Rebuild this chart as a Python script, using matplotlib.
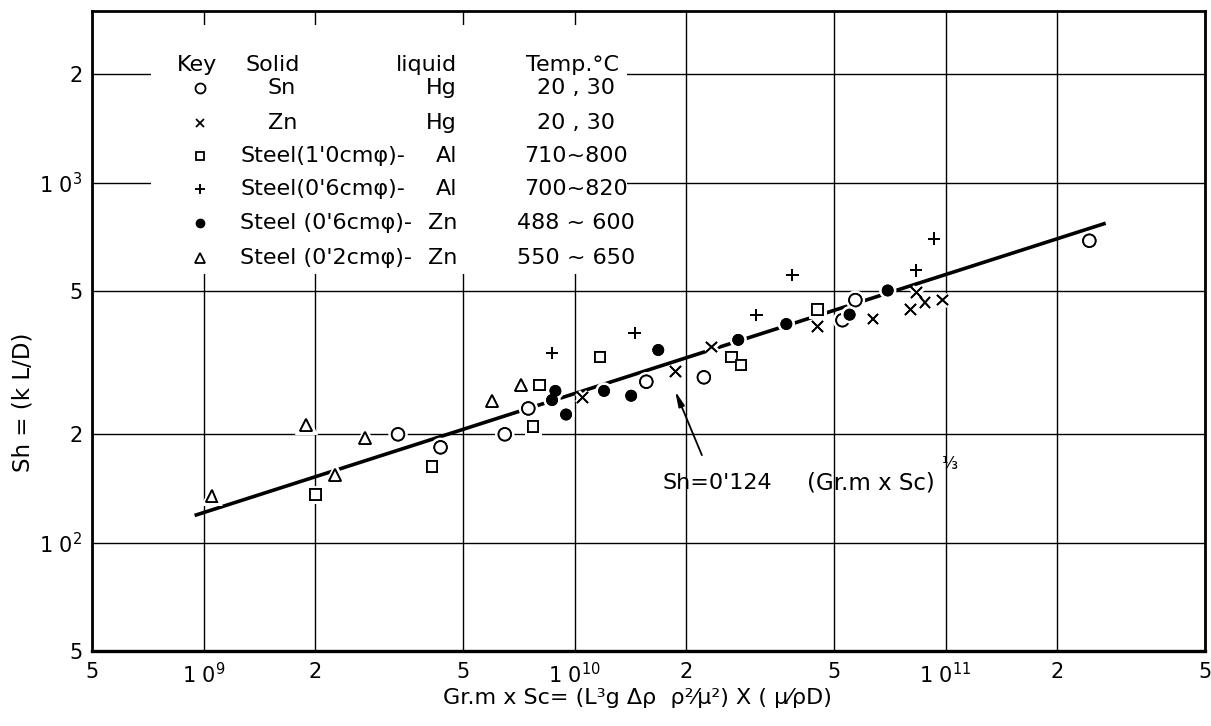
import matplotlib
matplotlib.use("Agg")
import matplotlib.pyplot as plt
import matplotlib.patheffects as pe
from matplotlib.patches import Rectangle
from matplotlib.ticker import FixedLocator, NullLocator, FixedFormatter

plt.rcParams['font.family'] = ['DejaVu Sans']

# ---------------- data ----------------
sn_x = [3.34e9, 4.35e9, 6.48e9, 7.5e9, 1.56e10, 2.23e10, 5.27e10, 5.71e10, 2.44e11]
sn_y = [200, 184, 200, 236, 280, 288, 415, 472, 690]

zn_x = [1.05e10, 1.87e10, 2.34e10, 4.51e10, 6.38e10, 8.34e10, 8.04e10, 8.81e10, 9.8e10]
zn_y = [253, 299, 350, 399, 418, 496, 444, 465, 472]

st10al_x = [2.0e9, 4.12e9, 7.72e9, 8.04e9, 1.17e10, 2.65e10, 2.81e10, 4.51e10]
st10al_y = [136, 163, 210, 274, 328, 328, 312, 445]

st06al_x = [8.69e9, 1.45e10, 3.09e10, 3.86e10, 8.33e10, 9.3e10]
st06al_y = [336, 382, 429, 555, 571, 699]

st06zn_x = [8.87e9, 8.69e9, 9.48e9, 1.20e10, 1.42e10, 1.68e10, 2.76e10, 3.72e10, 5.51e10, 6.98e10]
st06zn_y = [264, 249, 227, 264, 256, 343, 366, 405, 430, 502]

st02zn_x = [1.05e9, 1.89e9, 2.72e9, 2.26e9, 6.0e9, 7.18e9]
st02zn_y = [135, 212, 195, 154, 247, 274]

# correlation line Sh = 0.124 (Gr.m x Sc)^(1/3), end points as drawn
fit_x = [9.45e8, 2.7e11]
fit_y = [119, 772]

x_ticks = [5e8, 1e9, 2e9, 5e9, 1e10, 2e10, 5e10, 1e11, 2e11, 5e11]
x_labels = ["5", "1 0$^9$", "2", "5", "1 0$^{10}$", "2", "5", "1 0$^{11}$", "2", "5"]
y_ticks = [50, 100, 200, 500, 1000, 2000]
y_labels = ["5", "1 0$^2$", "2", "5", "1 0$^3$", "2"]

key_solid = ["Sn", "Zn", "Steel(1'0cmφ)-", "Steel(0'6cmφ)-", "Steel (0'6cmφ)-", "Steel (0'2cmφ)-"]
key_liquid = ["Hg", "Hg", "Al", "Al", "Zn", "Zn"]
key_temp = ["20 , 30", "20 , 30", "710~800", "700~820", "488 ~ 600", "550 ~ 650"]

# ---------------- figure ----------------
fig = plt.figure(figsize=(12.11, 7.26), dpi=100)
ax = fig.add_axes([0.076, 0.1033, 0.919, 0.8815])
ax.set_xscale('log')
ax.set_yscale('log')
ax.set_xlim(5e8, 5e11)
ax.set_ylim(50, 3000)

ax.xaxis.set_major_locator(FixedLocator(x_ticks))
ax.xaxis.set_minor_locator(NullLocator())
ax.xaxis.set_major_formatter(FixedFormatter(x_labels))
ax.yaxis.set_major_locator(FixedLocator(y_ticks))
ax.yaxis.set_minor_locator(NullLocator())
ax.yaxis.set_major_formatter(FixedFormatter(y_labels))
ax.tick_params(axis='both', length=0, labelsize=15)
ax.tick_params(axis='x', pad=8)
ax.tick_params(axis='y', pad=7)

ax.set_axisbelow(True)
ax.grid(True, which='major', color='black', lw=1.0)
for s in ax.spines.values():
    s.set_linewidth(2.0)
    s.set_color('black')
ax.spines['bottom'].set_linewidth(2.4)

# white area behind the key table
ax.add_patch(Rectangle((0.053, 0.589), 0.428, 0.389, transform=ax.transAxes,
                       facecolor='white', edgecolor='none', zorder=1))

halo = [pe.withStroke(linewidth=5, foreground='white')]

ax.plot(fit_x, fit_y, color='black', lw=2.6, zorder=3, solid_capstyle='butt')

styles = [
    (sn_x, sn_y, dict(marker='o', ms=9, mfc='white', mec='black', mew=1.3)),
    (zn_x, zn_y, dict(marker='x', ms=7.5, mec='black', mew=1.3)),
    (st10al_x, st10al_y, dict(marker='s', ms=7.5, mfc='white', mec='black', mew=1.3)),
    (st06al_x, st06al_y, dict(marker='+', ms=9, mec='black', mew=1.4)),
    (st06zn_x, st06zn_y, dict(marker='o', ms=7.5, mfc='black', mec='black', mew=1.0)),
    (st02zn_x, st02zn_y, dict(marker='^', ms=8.5, mfc='white', mec='black', mew=1.3)),
]
for xs, ys, st in styles:
    ax.plot(xs, ys, linestyle='none', zorder=4, path_effects=halo + [pe.Normal()], **st)

# ---------------- key table ----------------
row_y = [0.8797, 0.8250, 0.7734, 0.7219, 0.6688, 0.6141]
hdr_y = 0.9156
fs = 16
ax.text(0.094, hdr_y, "Key", transform=ax.transAxes, ha='center', va='center', fontsize=fs, zorder=5)
ax.text(0.1375, hdr_y, "Solid", transform=ax.transAxes, ha='left', va='center', fontsize=fs, zorder=5)
ax.text(0.328, hdr_y, "liquid", transform=ax.transAxes, ha='right', va='center', fontsize=fs, zorder=5)
ax.text(0.390, hdr_y, "Temp.°C", transform=ax.transAxes, ha='left', va='center', fontsize=fs, zorder=5)
for i, (xs, ys, st) in enumerate(styles):
    y = row_y[i]
    st2 = dict(st)
    st2['ms'] = st['ms'] * 0.8
    ax.plot([0.097], [y], transform=ax.transAxes, linestyle='none', zorder=5, **st2)
    sx = 0.158 if i < 2 else 0.133
    ax.text(sx, y, key_solid[i], transform=ax.transAxes, ha='left', va='center', fontsize=fs, zorder=5)
    ax.text(0.328, y, key_liquid[i], transform=ax.transAxes, ha='right', va='center', fontsize=fs, zorder=5)
    ax.text(0.435, y, key_temp[i], transform=ax.transAxes, ha='center', va='center', fontsize=fs, zorder=5)

# ---------------- correlation label ----------------
ax.text(0.513, 0.2625, "Sh=0'124", transform=ax.transAxes, ha='left', va='center', fontsize=16, zorder=5)
ax.text(0.642, 0.2625, "(Gr.m x Sc)", transform=ax.transAxes, ha='left', va='center', fontsize=16.5, zorder=5)
ax.text(0.764, 0.292, "⅓", transform=ax.transAxes, ha='left', va='center', fontsize=12, zorder=5)
ax.annotate("", xy=(1.865e10, 264), xycoords='data',
            xytext=(0.548, 0.306), textcoords='axes fraction',
            arrowprops=dict(arrowstyle='-|>,head_width=0.18,head_length=0.9', lw=1.3,
                            color='black', shrinkA=0, shrinkB=0), zorder=5)

# ---------------- axis titles ----------------
fig.text(0.019, 0.4463, "Sh = (k L/D)", rotation=90, ha='center', va='center', fontsize=16.5)
fig.text(0.526, 0.0386, "Gr.m x Sc= (L³g Δρ  ρ²⁄μ²) X ( μ⁄ρD)", ha='center', va='center', fontsize=16)

fig.savefig("out.png", dpi=100)
